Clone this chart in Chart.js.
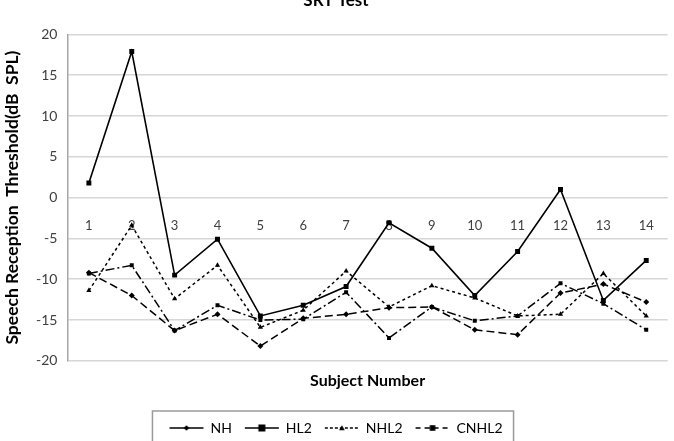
<!DOCTYPE html>
<html>
<head>
<meta charset="utf-8">
<script src="https://cdn.jsdelivr.net/npm/chart.js@4"></script>
<style>
  html, body { margin: 0; padding: 0; background: #fff; overflow: hidden; }
  #wrap { position: absolute; left: 0; top: -16px; width: 674px; height: 465px; }
</style>
</head>
<body>
<div id="wrap"><canvas id="srtChart"></canvas></div>
<script>
const subjects = ['1', '2', '3', '4', '5', '6', '7', '8', '9', '10', '11', '12', '13', '14'];
const nhValues = [-9.2, -12.0, -16.3, -14.3, -18.2, -14.8, -14.3, -13.5, -13.4, -16.2, -16.8, -11.7, -10.6, -12.8];
const hl2Values = [1.8, 17.9, -9.5, -5.1, -14.5, -13.2, -10.9, -3.1, -6.2, -12.0, -6.6, 1.0, -12.6, -7.7];
const nhl2Values = [-11.4, -3.4, -12.4, -8.3, -15.9, -13.8, -9.0, -13.4, -10.8, -12.3, -14.5, -14.3, -9.3, -14.5];
const cnhl2Values = [-9.3, -8.3, -16.3, -13.2, -15.0, -14.9, -11.6, -17.2, -13.4, -15.1, -14.5, -10.5, -13.0, -16.2];

const FONT = 'Lato, "Liberation Sans", sans-serif';

// small legend sample: line + marker
function legendSample(dash, style, size, lw) {
    const c = document.createElement('canvas');
    c.width = 36; c.height = 12;
    const g = c.getContext('2d');
    g.strokeStyle = '#000';
    g.fillStyle = '#000';
    g.lineWidth = lw;
    g.setLineDash(dash);
    g.beginPath(); g.moveTo(1, 6); g.lineTo(35, 6); g.stroke();
    g.setLineDash([]);
    g.beginPath();
    if (style === 'rect') {
        g.rect(18 - size, 6 - size, size * 2, size * 2);
    } else if (style === 'rectRot') {
        g.moveTo(18, 6 - size); g.lineTo(18 + size, 6); g.lineTo(18, 6 + size); g.lineTo(18 - size, 6);
    } else {
        g.moveTo(18, 6 - size); g.lineTo(18 + size, 6 + size * 0.8); g.lineTo(18 - size, 6 + size * 0.8);
    }
    g.closePath(); g.fill();
    return c;
}

const legendBox = {
    id: 'legendBox',
    afterDraw(chart) {
        const boxes = chart.legend.legendHitBoxes;
        if (!boxes || !boxes.length) return;
        const first = boxes[0], last = boxes[boxes.length - 1];
        const ctx = chart.ctx;
        ctx.save();
        ctx.strokeStyle = '#9a9a9a';
        ctx.lineWidth = 1.5;
        ctx.strokeRect(first.left - 17, first.top - 10, last.left + last.width - first.left + 28, 40);
        ctx.restore();
    }
};

const series = [
    { label: 'NH', data: nhValues, dash: [8, 4], style: 'rectRot', r: 3, lw: 1.5 },
    { label: 'HL2', data: hl2Values, dash: [], style: 'rect', r: 3.5, lw: 1.6 },
    { label: 'NHL2', data: nhl2Values, dash: [3, 3], style: 'triangle', r: 3, lw: 1.5 },
    { label: 'CNHL2', data: cnhl2Values, dash: [9, 3, 2, 3], style: 'rect', r: 2.8, lw: 1.5 }
];
const sampleDash = [[], [], [3, 2], [5, 4]];

new Chart(document.getElementById('srtChart'), {
    type: 'line',
    data: {
        labels: subjects,
        datasets: series.map(s => ({
            label: s.label,
            data: s.data,
            xAxisID: 'x',
            borderColor: '#000',
            backgroundColor: '#000',
            borderWidth: s.lw,
            borderDash: s.dash,
            pointStyle: s.style,
            pointRadius: s.r,
            pointBorderWidth: 0,
            pointBackgroundColor: '#000',
            tension: 0
        }))
    },
    options: {
        responsive: true,
        maintainAspectRatio: false,
        animation: false,
        layout: { padding: { left: 2, right: 4, top: 0, bottom: 4 } },
        plugins: {
            title: {
                display: true,
                text: 'SRT Test',
                color: '#000',
                font: { family: FONT, size: 17, weight: 'bold' },
                padding: { top: 6, bottom: 24 }
            },
            legend: {
                position: 'bottom',
                labels: {
                    color: '#000',
                    font: { family: FONT, size: 14 },
                    usePointStyle: true,
                    pointStyleWidth: 34,
                    padding: 13,
                    generateLabels(chart) {
                        return chart.data.datasets.map((ds, i) => ({
                            text: ds.label,
                            pointStyle: legendSample(sampleDash[i], series[i].style, i === 1 ? 3.5 : 2.8, 1.6),
                            fillStyle: '#000',
                            strokeStyle: '#000',
                            lineWidth: 0,
                            fontColor: '#000',
                            datasetIndex: i
                        }));
                    }
                }
            },
            tooltip: { enabled: false }
        },
        scales: {
            x: {
                type: 'category',
                position: 'bottom',
                offset: true,
                grid: { display: false },
                border: { display: false },
                ticks: { display: false },
                title: {
                    display: true,
                    text: 'Subject Number',
                    color: '#000',
                    font: { family: FONT, size: 16, weight: 'bold' },
                    padding: { top: 2, bottom: 18 }
                }
            },
            x2: {
                type: 'category',
                axis: 'x',
                position: { y: 0 },
                offset: true,
                grid: { display: false, drawTicks: false },
                border: { display: false },
                ticks: { color: '#404040', font: { family: FONT, size: 13 }, padding: 20, maxRotation: 0 }
            },
            y: {
                min: -20,
                max: 20,
                ticks: { stepSize: 5, color: '#404040', font: { family: FONT, size: 14 }, padding: 10 },
                grid: { color: '#d6d6d6', lineWidth: 1.5, drawTicks: false },
                border: { display: true, color: '#a6a6a6', width: 1.5 },
                title: {
                    display: true,
                    text: 'Speech Reception  Threshold(dB  SPL)',
                    color: '#000',
                    font: { family: FONT, size: 17.5, weight: 'bold' },
                    padding: { top: 0, bottom: 3 }
                }
            }
        }
    },
    plugins: [legendBox]
});
</script>
</body>
</html>
